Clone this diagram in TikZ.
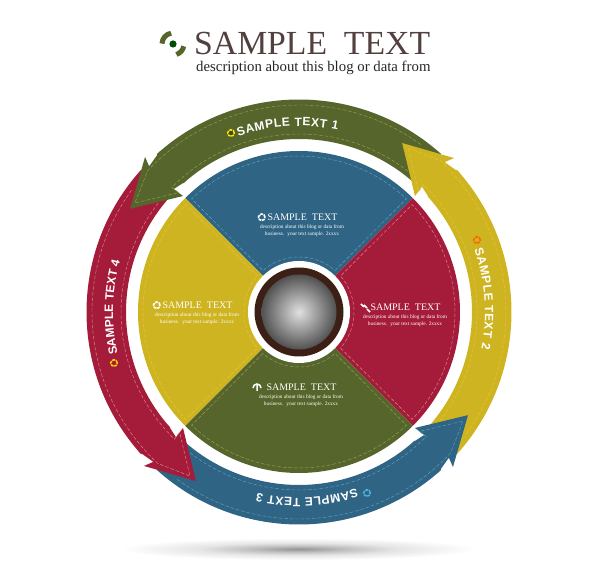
\documentclass[tikz,border=0pt]{standalone}
\usepackage{xcolor}
\usepackage{fontspec}
\usepackage{tikz}
\usetikzlibrary{calc}
\usetikzlibrary{positioning}
\usetikzlibrary{decorations.text}
\setmainfont{Liberation Serif}
\newfontfamily\bandfont{Liberation Sans}
\definecolor{olivec}{HTML}{56652B}
\definecolor{yellowc}{HTML}{CFB422}
\definecolor{bluec}{HTML}{2F6484}
\definecolor{redc}{HTML}{A51C3A}
\definecolor{brownc}{HTML}{3D2015}
\definecolor{titlec}{HTML}{51403D}
\definecolor{olived}{HTML}{94A355}
\definecolor{yellowd}{HTML}{E9C535}
\definecolor{blued}{HTML}{5FA2C2}
\definecolor{redd}{HTML}{DC8695}
\definecolor{markblued}{HTML}{4FB4DC}
\pgfdeclareradialshading{groundshade}{\pgfpointorigin}{color(0bp)=(black!42); color(7bp)=(black!24); color(14bp)=(black!10); color(25bp)=(white); color(50bp)=(white)}
\tikzstyle{stitch}= [line width=0.45pt, dash pattern=on 3.5pt off 2pt]
\tikzstyle{headtext}= [font=\fontsize{10}{10}\selectfont, text=white, inner sep=0pt]
\tikzstyle{desctext}= [font=\fontsize{5.3}{6.8}\selectfont, text=white, align=center, inner sep=0pt]
\tikzstyle{ring}= [circle, draw, line width=1.6pt, minimum size=6.5pt, inner sep=0pt, dash pattern=on 3pt off 0.8pt]

\begin{document}
\begin{tikzpicture}[x=1pt,y=1pt]
  \useasboundingbox (0,0) rectangle (600,581);

  \coordinate (cen) at (299,269);

  % shadow under the wheel
  \shade[shading=groundshade] (298,32) ellipse [x radius=178,y radius=11];

  % title
  \node[font=\fontsize{33.7}{33.7}\selectfont,text=titlec,inner sep=0pt,anchor=base west] (title) at (194,526) {SAMPLE\hspace{0.25em} TEXT};
  \node[font=\fontsize{14.8}{14.8}\selectfont,text=black!85,inner sep=0pt,anchor=base west] (subtitle) at (196,509) {description about this blog or data from};
  \fill[green!30!black] (173,537) circle (3.6);
  \draw[olivec,line width=5pt] (173,537) ++(178:11) arc[start angle=178,end angle=100,radius=11];
  \draw[olivec,line width=5pt] (173,537) ++(-72:11) arc[start angle=-72,end angle=-12,radius=11];

  % inner sectors
  \foreach \a/\c/\d in {90/bluec/blued,0/redc/redd,-90/olivec/olived,180/yellowc/yellowd}{
    \begin{scope}[shift={(cen)},rotate=\a]
      \fill[\c] (0,0) -- (-45:161) arc[start angle=-45,end angle=45,radius=161] -- cycle;
      \draw[stitch,\d] (-41:55) -- (-43.5:156) arc[start angle=-43.5,end angle=43.5,radius=156] -- (41:55) arc[start angle=41,end angle=-41,radius=55];
    \end{scope}
  }

  % hub
  \fill[white] (cen) circle (51);
  \fill[brownc] (cen) circle (44.5);
  \shade[inner color=black!12,outer color=black!68] (cen) circle (37.5);

  % arrow bodies
  \foreach \a/\c in {90/olivec,0/yellowc,-90/bluec,180/redc}{
    \begin{scope}[shift={(cen)},rotate=\a]
      \fill[\c] (42:212.5) arc[start angle=42,end angle=-42,radius=212.5] -- (-42:173) arc[start angle=-42,end angle=42,radius=173] -- cycle;
    \end{scope}
  }

  % arrow heads and their stitches
  \foreach \a/\c/\d in {90/olivec/olived,0/yellowc/yellowd,-90/bluec/blued,180/redc/redd}{
    \begin{scope}[shift={(cen)},rotate=\a]
      \fill[\c] (58.6:198) -- (44.8:218.5) -- (45.8:209) -- (41:212.5) -- (41:173) -- (45.5:175.5) -- (45:164) -- cycle;
      \draw[stitch,\d] (-36:207) arc[start angle=-36,end angle=47,radius=207] -- (56.4:197) -- (45.2:169.5) -- (45.6:178) arc[start angle=45.6,end angle=-38,radius=178];
    \end{scope}
  }

  % arrow labels
  \foreach \a/\s/\e/\t in {0/109/78/1,-90/109.6/78.6/2,-180/108/77/3,-270/103/74/4}{
    \begin{scope}[shift={(cen)},rotate=\a]
      \path[decorate,decoration={text along path,text align={fit to path},
        text={|\bandfont\bfseries\fontsize{12}{12}\selectfont\color{white}|SAMPLE TEXT \t}}]
        (\s:186) arc[start angle=\s,end angle=\e,radius=186];
    \end{scope}
  }

  % arrow label marks
  \node[ring,draw=yellow!85!orange,fill=olivec!70!black] (markone) at (231,448) {};
  \node[ring,draw=orange!80!red,fill=yellowc] (marktwo) at (477,341) {};
  \node[ring,draw=markblued,fill=bluec] (markthree) at (367,88) {};
  \node[ring,draw=yellow!70!orange,fill=redc] (markfour) at (114,218) {};

  % sector texts
  \node[headtext,anchor=base] (headblue) at (302.5,360.5) {SAMPLE\hspace{0.25em} TEXT};
  \node[desctext] (descblue) at (302,350) {description about this blog or data from\\business.\hspace{0.25em} your text sample. 2xxxx};
  \node[ring,draw=white,left=1.5pt of headblue.west] (markblue) {};

  \node[headtext,anchor=base] (headred) at (405.5,270.5) {SAMPLE\hspace{0.25em} TEXT};
  \node[desctext] (descred) at (405,260) {description about this blog or data from\\business.\hspace{0.25em} your text sample. 2xxxx};
  \draw[white,line width=1.5pt] (361,277) -- (364,274) (364,276) -- (367,273) (367,272) -- (370,269);

  \node[headtext,anchor=base] (headgreen) at (301.5,190.5) {SAMPLE\hspace{0.25em} TEXT};
  \node[desctext] (descgreen) at (301,180) {description about this blog or data from\\business.\hspace{0.25em} your text sample. 2xxxx};
  \draw[white,line width=1.5pt] (253,193) arc[start angle=180,end angle=0,radius=4] (257,196) -- (257,190);

  \node[headtext,anchor=base] (headyellow) at (197.5,272.5) {SAMPLE\hspace{0.25em} TEXT};
  \node[desctext] (descyellow) at (197,262) {description about this blog or data from\\business.\hspace{0.25em} your text sample. 2xxxx};
  \node[ring,draw=white,left=1.5pt of headyellow.west] (markyellow) {};
\end{tikzpicture}
\end{document}
